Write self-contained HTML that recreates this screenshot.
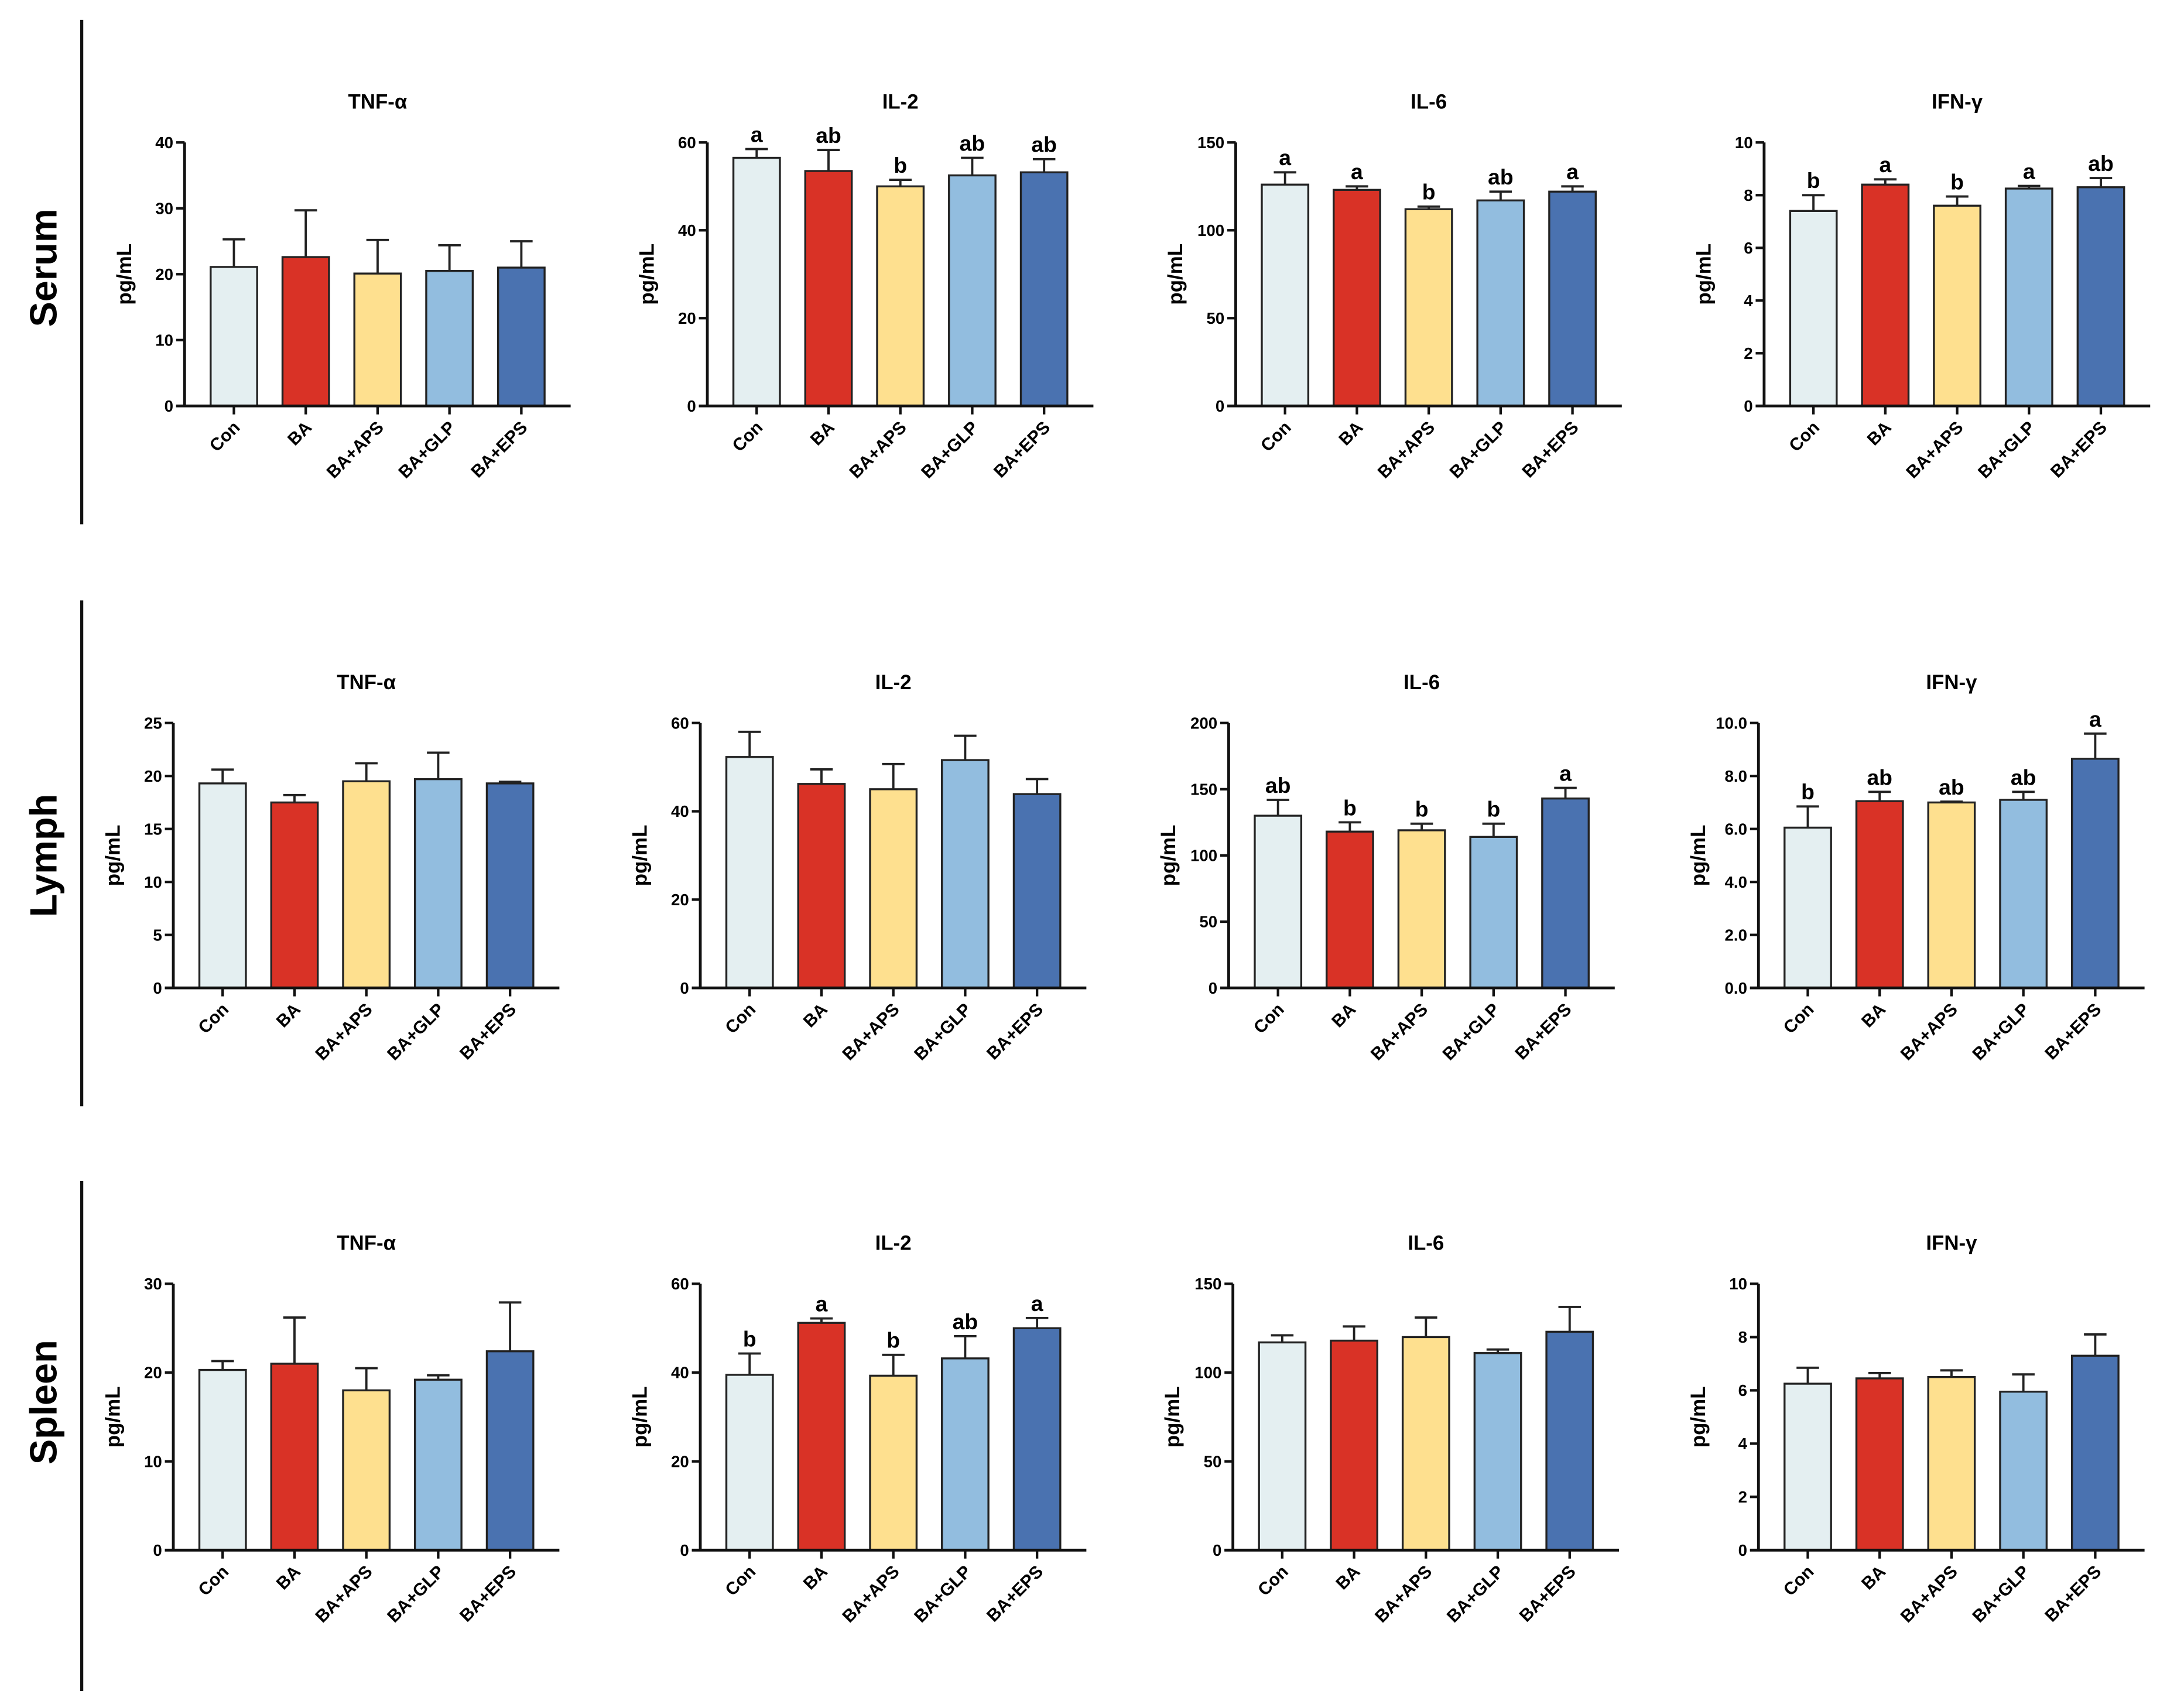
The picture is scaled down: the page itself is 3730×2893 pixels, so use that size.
<!DOCTYPE html>
<html><head><meta charset="utf-8"><style>
html,body{margin:0;padding:0;background:#fff;}
svg{display:block;font-family:"Liberation Sans",Arial,sans-serif;font-weight:bold;}
</style></head><body>
<svg id="fig" width="3730" height="2893" viewBox="0 0 1550 1202" xmlns="http://www.w3.org/2000/svg">
<line x1="58" y1="14" x2="58" y2="372" stroke="#111" stroke-width="2.2"/>
<line x1="58" y1="426" x2="58" y2="785" stroke="#111" stroke-width="2.2"/>
<line x1="58" y1="838" x2="58" y2="1200" stroke="#111" stroke-width="2.2"/>
<text transform="translate(40,190) rotate(-90)" text-anchor="middle" font-size="27">Serum</text>
<text transform="translate(40,607) rotate(-90)" text-anchor="middle" font-size="27">Lymph</text>
<text transform="translate(40,995) rotate(-90)" text-anchor="middle" font-size="27">Spleen</text>
</svg>
<script>
const categories = ["Con","BA","BA+APS","BA+GLP","BA+EPS"];
const colors = ["#e4eff1","#d93226","#fee08f","#92bddf","#4a72b0"];
const titles = ["TNF-α","IL-2","IL-6","IFN-γ","TNF-α","IL-2","IL-6","IFN-γ","TNF-α","IL-2","IL-6","IFN-γ"];
const yMax = [40,60,150,10, 25,60,200,10, 30,60,150,10];
const yStep = [10,20,50,2, 5,20,50,2, 10,20,50,2];
const decimals = [0,0,0,0, 0,0,0,1, 0,0,0,0];
const means = [
 [21.1,22.6,20.1,20.5,21.0],[56.5,53.5,50.0,52.5,53.2],[126,123,112,117,122],[7.4,8.4,7.6,8.25,8.3],
 [19.3,17.5,19.5,19.7,19.3],[52.3,46.2,45.0,51.6,43.9],[130,118,119,114,143],[6.05,7.05,7.0,7.1,8.65],
 [20.3,21.0,18.0,19.2,22.4],[39.5,51.2,39.3,43.2,50.0],[117,118,120,111,123],[6.25,6.45,6.5,5.95,7.3]];
const errs = [
 [4.2,7.1,5.1,3.9,4.0],[2.0,4.8,1.5,4.0,3.0],[7,2,1.5,5,3],[0.6,0.2,0.35,0.1,0.35],
 [1.3,0.7,1.7,2.5,0.15],[5.7,3.3,5.7,5.5,3.4],[12,7,5,10,8],[0.8,0.35,0.03,0.3,0.95],
 [1.0,5.2,2.5,0.5,5.5],[4.8,1.0,4.7,5.0,2.3],[4,8,11,2,14],[0.6,0.2,0.25,0.65,0.8]];
const letters = [
 null,["a","ab","b","ab","ab"],["a","a","b","ab","a"],["b","a","b","a","ab"],
 null,null,["ab","b","b","b","a"],["b","ab","ab","ab","a"],
 null,["b","a","b","ab","a"],null,null];
const rowGeom = [{top:101,zero:288},{top:513,zero:701},{top:911,zero:1100}];
const colAxisX = [[131,502,877,1252],[123,497,872,1248],[123,497,875,1248]];
const panelNames = ["serum","lymph","spleen"];
const NS="http://www.w3.org/2000/svg";
const svg=document.getElementById('fig');
function mk(tag,attrs,parent){const e=document.createElementNS(NS,tag);for(const k in attrs)e.setAttribute(k,attrs[k]);(parent||svg).appendChild(e);return e;}
for(let p=0;p<12;p++){
  const r=Math.floor(p/4), c=p%4;
  const ax=colAxisX[r][c], top=rowGeom[r].top, zero=rowGeom[r].zero;
  const g=mk('g',{});
  
  
  const yS=v=>zero-(v/yMax[p])*(zero-top);
  const xS=i=>ax+35+i*51;
  const t=mk('text',{x:ax+137,y:top-24,'text-anchor':'middle','font-size':14.5},g);
  t.textContent=titles[p];
  
  
  const yl=mk('text',{transform:`translate(${ax-38},${(top+zero)/2}) rotate(-90)`,'text-anchor':'middle','font-size':14.5},g);
  yl.textContent='pg/mL';
  
  
  for(let i=0;i<5;i++){
    const m=means[p][i], e=errs[p][i], cx=xS(i);
    const el=mk('line',{x1:cx,x2:cx,y1:yS(m),y2:yS(m+e),stroke:'#222','stroke-width':1.6},g);
    
    
    const cap=mk('line',{x1:cx-8,x2:cx+8,y1:yS(m+e),y2:yS(m+e),stroke:'#222','stroke-width':1.6},g);
    
    
    const b=mk('rect',{x:cx-16.5,y:yS(m),width:33,height:zero-yS(m),fill:colors[i],stroke:'#222','stroke-width':1.4},g);
    
    
    if(letters[p]){
      const lt=mk('text',{x:cx,y:yS(m+e)-5,'text-anchor':'middle','font-size':15.5},g);
      lt.textContent=letters[p][i];
      
      
    }
    const tk=mk('line',{x1:cx,x2:cx,y1:zero,y2:zero+6,stroke:'#111','stroke-width':1.8},g);
    
    
    const cl=mk('text',{transform:`translate(${cx+5},${zero+16}) rotate(-45)`,'text-anchor':'end','font-size':12.5},g);
    cl.textContent=categories[i];
    
    
  }
  const ya=mk('line',{x1:ax,x2:ax,y1:top,y2:zero,stroke:'#111','stroke-width':2},g);
  
  
  const xa=mk('line',{x1:ax-6,x2:ax+274,y1:zero,y2:zero,stroke:'#111','stroke-width':2},g);
  
  
  for(let v=0;v<=yMax[p]+1e-9;v+=yStep[p]){
    const tk=mk('line',{x1:ax-6,x2:ax,y1:yS(v),y2:yS(v),stroke:'#111','stroke-width':1.8},g);
    
    
    const tl=mk('text',{x:ax-8,y:yS(v)+4,'text-anchor':'end','font-size':11.5},g);
    tl.textContent=v.toFixed(decimals[p]);
    
    
  }
}
</script>
</body></html>
